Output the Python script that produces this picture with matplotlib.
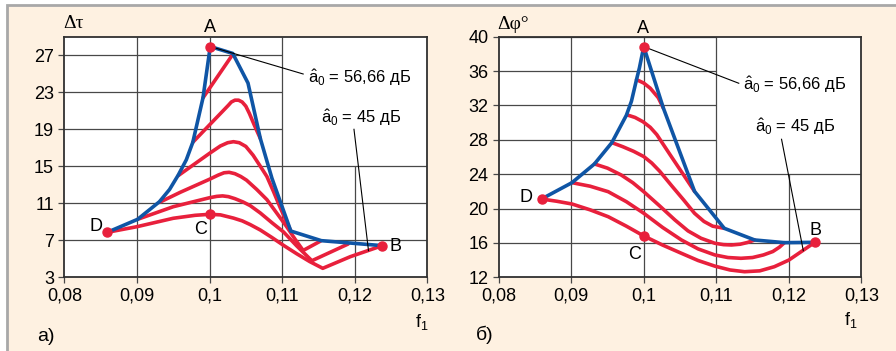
import matplotlib
matplotlib.use('Agg')
import matplotlib.pyplot as plt
from matplotlib.patches import Rectangle

plt.rcParams['font.family'] = ['Liberation Sans Narrow', 'Liberation Sans', 'DejaVu Sans']
plt.rcParams['mathtext.fontset'] = 'custom'
plt.rcParams['mathtext.rm'] = 'Liberation Sans'
plt.rcParams['mathtext.it'] = 'Liberation Sans'

RED = '#e8203c'
BLUE = '#0f55a5'
GRID = '#484848'
CREAM = '#fef1e1'

# ---- a) group delay ripple Δτ vs f1 ----
a_env_f = [0.0859, 0.0901, 0.0931, 0.0945, 0.0957, 0.0968, 0.0977, 0.0991, 0.1001,
           0.1032, 0.1053, 0.1070, 0.1086, 0.1112, 0.1154, 0.1238]
a_env_v = [7.86, 9.27, 11.17, 12.5, 14.06, 15.7, 17.6, 22.4, 27.95,
           27.2, 24.0, 18.0, 13.7, 8.0, 6.96, 6.42]

a_curves = [
    ([0.0991, 0.1032], [22.4, 27.1]),
    ([0.0977, 0.1026, 0.1030, 0.1035, 0.1040, 0.1045, 0.1050, 0.1055, 0.1062, 0.1070],
     [17.6, 21.6, 21.95, 22.15, 22.15, 21.95, 21.5, 20.7, 19.4, 18.0]),
    ([0.0957, 0.1000, 0.1015, 0.1025, 0.1033, 0.1041, 0.1050, 0.1060, 0.1070, 0.1079,
      0.1088, 0.1097, 0.1105, 0.1112],
     [14.0, 16.4, 17.2, 17.55, 17.66, 17.55, 17.15, 16.2, 15.0, 13.9,
      12.3, 10.6, 9.2, 8.0]),
    ([0.0931, 0.0960, 0.1000, 0.1012, 0.1020, 0.1027, 0.1035, 0.1043, 0.1051, 0.1065,
      0.1079, 0.1093, 0.1106, 0.1118, 0.1129, 0.1153],
     [11.1, 12.2, 13.6, 14.05, 14.3, 14.35, 14.2, 13.9, 13.5, 12.5,
      11.4, 9.9, 8.5, 7.1, 5.9, 6.92]),
    ([0.0901, 0.0950, 0.1000, 0.1010, 0.1018, 0.1026, 0.1035, 0.1046, 0.1056, 0.1070,
      0.1086, 0.1102, 0.1120, 0.1141, 0.1191],
     [9.27, 10.63, 11.6, 11.75, 11.8, 11.72, 11.5, 11.15, 10.75, 9.95,
      8.9, 7.9, 6.4, 4.79, 6.6]),
    ([0.0859, 0.0900, 0.0950, 0.0980, 0.1000, 0.1015, 0.1033, 0.1045, 0.1056, 0.1070,
      0.1086, 0.1102, 0.1120, 0.1138, 0.1156, 0.1194, 0.1238],
     [7.86, 8.47, 9.38, 9.7, 9.81, 9.75, 9.4, 9.1, 8.7, 8.11,
      7.3, 6.45, 5.55, 4.7, 3.97, 5.23, 6.42]),
]
a_pts_f = [0.1001, 0.1238, 0.1000, 0.0859]
a_pts_v = [27.95, 6.42, 9.81, 7.86]

# ---- б) phase ripple Δφ° vs f1 ----
b_env_f = [0.0859, 0.0901, 0.0932, 0.0956, 0.0976, 0.0983, 0.0990, 0.0994, 0.1000,
           0.1027, 0.1070, 0.1111, 0.1153, 0.1194, 0.1236]
b_env_v = [21.11, 23.01, 25.19, 27.67, 30.85, 32.48, 35.0, 36.36, 38.84,
           31.7, 22.0, 17.7, 16.34, 16.03, 16.07]

b_curves = [
    ([0.0990, 0.1000, 0.1009, 0.1020, 0.1027], [35.0, 34.6, 34.0, 32.9, 31.7]),
    ([0.0977, 0.0988, 0.0999, 0.1009, 0.1018, 0.1036, 0.1055, 0.1070],
     [30.9, 30.6, 30.1, 29.45, 28.6, 26.3, 23.9, 22.0]),
    ([0.0956, 0.0971, 0.0986, 0.1000, 0.1011, 0.1022, 0.1039, 0.1055, 0.1070, 0.1083,
      0.1095, 0.1111],
     [27.67, 27.2, 26.66, 26.05, 25.3, 24.34, 22.6, 21.0, 19.45, 18.5,
      17.95, 17.7]),
    ([0.0932, 0.0950, 0.0969, 0.0985, 0.1000, 0.1022, 0.1043, 0.1061, 0.1079, 0.1098,
      0.1110, 0.1121, 0.1133, 0.1143, 0.1153],
     [25.19, 24.7, 23.9, 23.0, 21.96, 20.3, 18.67, 17.4, 16.54, 15.96,
      15.8, 15.76, 15.85, 16.05, 16.34]),
    ([0.0901, 0.0926, 0.0951, 0.0976, 0.1000, 0.1026, 0.1052, 0.1075, 0.1098, 0.1116,
      0.1134, 0.1150, 0.1165, 0.1178, 0.1187, 0.1194],
     [23.01, 22.6, 21.96, 20.8, 19.45, 17.8, 16.34, 15.3, 14.6, 14.3,
      14.21, 14.3, 14.6, 15.0, 15.5, 16.03]),
    ([0.0859, 0.0880, 0.0901, 0.0926, 0.0951, 0.0976, 0.1000, 0.1026, 0.1052, 0.1075,
      0.1098, 0.1119, 0.1139, 0.1160, 0.1180, 0.1200, 0.1217, 0.1236],
     [21.11, 20.85, 20.53, 19.85, 19.05, 17.95, 16.81, 15.75, 14.79, 13.95,
      13.3, 12.85, 12.65, 12.75, 13.23, 14.0, 14.98, 16.07]),
]
b_pts_f = [0.1000, 0.1236, 0.1000, 0.0859]
b_pts_v = [38.84, 16.07, 16.81, 21.11]

x_ticks = [0.08, 0.09, 0.10, 0.11, 0.12, 0.13]
x_labels = ['0,08', '0,09', '0,1', '0,11', '0,12', '0,13']


def draw_panel(ax, env_f, env_v, curves, pts_f, pts_v, ylim, yticks, full_from, gap_x):
    ax.set_xlim(0.08, 0.13)
    ax.set_ylim(*ylim)
    ax.set_facecolor('white')
    # partial grid: upper right block left blank for the labels
    for y in yticks[1:]:
        x_end = 0.13 if y <= full_from else 0.11
        ax.hlines(y, 0.08, x_end, color=GRID, lw=0.9, zorder=1)
    for x in [0.09, 0.10, 0.11]:
        ax.vlines(x, ylim[0], ylim[1], color=GRID, lw=0.9, zorder=1)
    ax.vlines(0.12, ylim[0], gap_x, color=GRID, lw=0.9, zorder=1)

    for cf, cv in curves:
        ax.plot(cf, cv, color=RED, lw=2.6, solid_joinstyle='round',
                solid_capstyle='round', zorder=3)
    ax.plot(env_f, env_v, color=BLUE, lw=2.6, solid_joinstyle='round',
            solid_capstyle='round', zorder=4)
    ax.plot(pts_f, pts_v, 'o', color=RED, ms=6.5, zorder=6, clip_on=False)

    ax.set_xticks(x_ticks)
    ax.set_xticklabels(x_labels)
    ax.set_yticks(yticks)
    ax.tick_params(direction='out', length=4.5, width=0.9, color=GRID,
                   labelsize=13, pad=3)
    for s in ax.spines.values():
        s.set_color('#303030')
        s.set_linewidth(1.3)


fig = plt.figure(figsize=(8.96, 3.51), dpi=100)
fig.patch.set_facecolor('white')
fig.patches.append(Rectangle((7 / 896, -0.05), 1.1, 1 - 5 / 351 + 0.05,
                             transform=fig.transFigure, facecolor=CREAM,
                             edgecolor='#a8a8a8', lw=2.0, zorder=-1))

ax1 = fig.add_axes([0.0718, 0.2100, 0.4051, 0.6838])
draw_panel(ax1, a_env_f, a_env_v, a_curves, a_pts_f, a_pts_v,
           (3, 28.95), [3, 7, 11, 15, 19, 23, 27], 15, 15)

ax2 = fig.add_axes([0.5566, 0.2100, 0.4047, 0.6855])
draw_panel(ax2, b_env_f, b_env_v, b_curves, b_pts_f, b_pts_v,
           (12, 40), [12, 16, 20, 24, 28, 32, 36, 40], 24, 24)

lab = dict(fontsize=13, ha='center', va='center', clip_on=False, zorder=7)
note = dict(fontsize=12, va='center', ha='left')

# panel a labels
ax1.plot([0.1001, 0.1129], [27.95, 24.98], color='black', lw=0.8, zorder=5)
ax1.plot([0.1199, 0.1219], [19.0, 5.88], color='black', lw=0.8, zorder=5)
ax1.text(0.1135, 24.54, r'$\hat{\mathrm{a}}_0$ = 56,66 дБ', **note)
ax1.text(0.1153, 20.22, r'$\hat{\mathrm{a}}_0$ = 45 дБ', **note)
ax1.text(0.1000, 30.0, 'A', **lab)
ax1.text(0.0844, 8.44, 'D', **lab)
ax1.text(0.0988, 8.22, 'C', **lab)
ax1.text(0.1256, 6.28, 'B', **lab)

# panel б labels
ax2.plot([0.1000, 0.1131], [38.84, 34.58], color='black', lw=0.8, zorder=5)
ax2.plot([0.1190, 0.1220], [28.06, 15.1], color='black', lw=0.8, zorder=5)
ax2.text(0.1137, 34.38, r'$\hat{\mathrm{a}}_0$ = 56,66 дБ', **note)
ax2.text(0.1153, 29.53, r'$\hat{\mathrm{a}}_0$ = 45 дБ', **note)
ax2.text(0.0999, 40.9, 'A', **lab)
ax2.text(0.0837, 21.34, 'D', **lab)
ax2.text(0.0988, 14.71, 'C', **lab)
ax2.text(0.1237, 17.5, 'B', **lab)

serif = ['Liberation Serif', 'DejaVu Serif']
fig.text(0.071, 0.934, 'Δτ', fontsize=14, family=serif, ha='left', va='center')
fig.text(0.555, 0.929, 'Δφ°', fontsize=14, family=serif, ha='left', va='center')
fig.text(0.471, 0.083, r'f$_1$', fontsize=13, ha='center', va='center')
fig.text(0.950, 0.088, r'f$_1$', fontsize=13, ha='center', va='center')
fig.text(0.041, 0.040, 'а)', fontsize=14, ha='left', va='center')
fig.text(0.531, 0.046, 'б)', fontsize=14, ha='left', va='center')

fig.savefig('out.png', dpi=100, facecolor=fig.get_facecolor())
